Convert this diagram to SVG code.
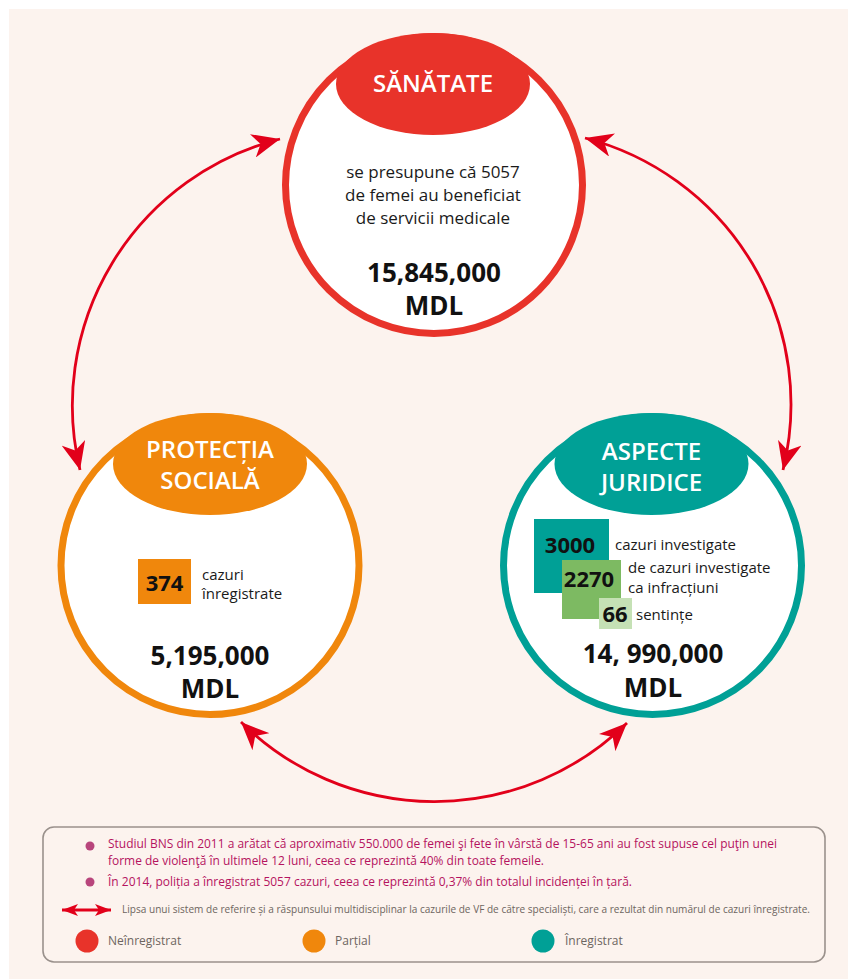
<svg xmlns="http://www.w3.org/2000/svg" width="848" height="979" viewBox="0 0 848 979">
<style>
text{font-family:"Open Sans","Noto Sans","Liberation Sans",sans-serif;}
.ring{fill:#ffffff;stroke-width:7;}
.title{fill:#ffffff;font-size:24px;font-weight:600;text-anchor:middle;}
.body{fill:#1a1a1a;font-size:17px;text-anchor:middle;}
.big{fill:#111111;font-size:26px;font-weight:700;text-anchor:middle;}
.num{fill:#111111;font-size:22px;font-weight:700;text-anchor:middle;}
.lbl{fill:#1a1a1a;font-size:15px;}
.note{fill:#b5135f;font-size:13px;}
.small{fill:#6d6560;font-size:10.5px;}
.key{fill:#6d6560;font-size:12px;}
.conn{fill:none;stroke:#e2001a;stroke-width:2.8;}
</style>
<defs>
<marker id="ah" markerUnits="userSpaceOnUse" markerWidth="28" markerHeight="24" viewBox="0 0 28 24" refX="28" refY="12" orient="auto-start-reverse">
<path d="M28,12 L0,0 L8,12 L0,24 Z" fill="#e2001a"/>
</marker>
<marker id="ahs" markerUnits="userSpaceOnUse" markerWidth="16" markerHeight="12" viewBox="0 0 16 12" refX="16" refY="6" orient="auto-start-reverse">
<path d="M16,6 L0,0 L4,6 L0,12 Z" fill="#e2001a"/>
</marker>
</defs>
<rect x="0" y="0" width="848" height="979" fill="#ffffff"/>
<rect x="9" y="9" width="839" height="970" fill="#fcf3ee"/>

<g id="connectors">
<path class="conn" d="M280,139 A275,275 0 0 0 80,470" marker-start="url(#ah)" marker-end="url(#ah)"/>
<path class="conn" d="M585,138 A275,275 0 0 1 783,470" marker-start="url(#ah)" marker-end="url(#ah)"/>
<path class="conn" d="M241,722 A275,275 0 0 0 627,723" marker-start="url(#ah)" marker-end="url(#ah)"/>
</g>

<g id="node-sanatate">
<circle class="ring" cx="434" cy="185" r="148.5" stroke="#e8332a"/>
<ellipse cx="433" cy="84" rx="97" ry="51" fill="#e8332a"/>
<text class="title" x="433" y="92">SĂNĂTATE</text>
<text class="body" x="433" y="178">se presupune că 5057</text>
<text class="body" x="433" y="201">de femei au beneficiat</text>
<text class="body" x="433" y="224">de servicii medicale</text>
<text class="big" x="434" y="282">15,845,000</text>
<text class="big" x="434" y="315">MDL</text>
</g>

<g id="node-protectia">
<circle class="ring" cx="210" cy="565.5" r="149" stroke="#f0870c"/>
<ellipse cx="210" cy="464" rx="97" ry="51" fill="#f0870c"/>
<text class="title" x="210" y="458">PROTECȚIA</text>
<text class="title" x="210" y="489">SOCIALĂ</text>
<rect x="138" y="559" width="53" height="45" fill="#f0870c"/>
<text class="num" x="164.5" y="591">374</text>
<text class="lbl" x="202" y="580">cazuri</text>
<text class="lbl" x="202" y="599">înregistrate</text>
<text class="big" x="210" y="665">5,195,000</text>
<text class="big" x="210" y="698">MDL</text>
</g>

<g id="node-juridice">
<circle class="ring" cx="652.5" cy="565.5" r="149" stroke="#00a096"/>
<ellipse cx="651.5" cy="464" rx="97" ry="51" fill="#00a096"/>
<text class="title" x="651.5" y="460">ASPECTE</text>
<text class="title" x="651.5" y="491">JURIDICE</text>
<rect x="534" y="519" width="75" height="74" fill="#00a096"/>
<rect x="562" y="560" width="59" height="59" fill="#7dba62"/>
<rect x="599" y="598" width="33" height="31" fill="#c5e1b5"/>
<text class="num" x="570" y="553" font-size="23">3000</text>
<text class="num" x="589" y="587" font-size="21">2270</text>
<text class="num" x="615" y="622">66</text>
<text class="lbl" x="615" y="550">cazuri investigate</text>
<text class="lbl" x="628" y="573">de cazuri investigate</text>
<text class="lbl" x="628" y="593">ca infracțiuni</text>
<text class="lbl" x="636" y="620">sentințe</text>
<text class="big" x="653" y="663">14, 990,000</text>
<text class="big" x="653" y="697">MDL</text>
</g>

<g id="legend">
<rect x="43" y="827" width="782" height="135" rx="11" fill="#fcf3ee" stroke="#9a918c" stroke-width="1.6"/>
<circle cx="90" cy="846" r="4.5" fill="#b8457c"/>
<text class="note" x="108" y="848" textLength="669" lengthAdjust="spacingAndGlyphs">Studiul BNS din 2011 a arătat că aproximativ 550.000 de femei şi fete în vârstă de 15-65 ani au fost supuse cel puţin unei</text>
<text class="note" x="108" y="865" textLength="436" lengthAdjust="spacingAndGlyphs">forme de violenţă în ultimele 12 luni, ceea ce reprezintă 40% din toate femeile.</text>
<circle cx="90" cy="882" r="4.5" fill="#b8457c"/>
<text class="note" x="108" y="886" textLength="524" lengthAdjust="spacingAndGlyphs">În 2014, poliția a înregistrat 5057 cazuri, ceea ce reprezintă 0,37% din totalul incidenței în țară.</text>
<path class="conn" d="M62,910 L111,910" stroke-width="2" marker-start="url(#ahs)" marker-end="url(#ahs)"/>
<text class="small" x="122" y="913" textLength="688" lengthAdjust="spacingAndGlyphs">Lipsa unui sistem de referire și a răspunsului multidisciplinar la cazurile de VF de către specialiști, care a rezultat din numărul de cazuri înregistrate.</text>
<circle cx="87" cy="941" r="11.5" fill="#e8332a"/>
<text class="key" x="108" y="945">Neînregistrat</text>
<circle cx="314" cy="941" r="11.5" fill="#f0870c"/>
<text class="key" x="335" y="945">Parțial</text>
<circle cx="543" cy="941" r="11.5" fill="#00a096"/>
<text class="key" x="565" y="945">Înregistrat</text>
</g>
</svg>
